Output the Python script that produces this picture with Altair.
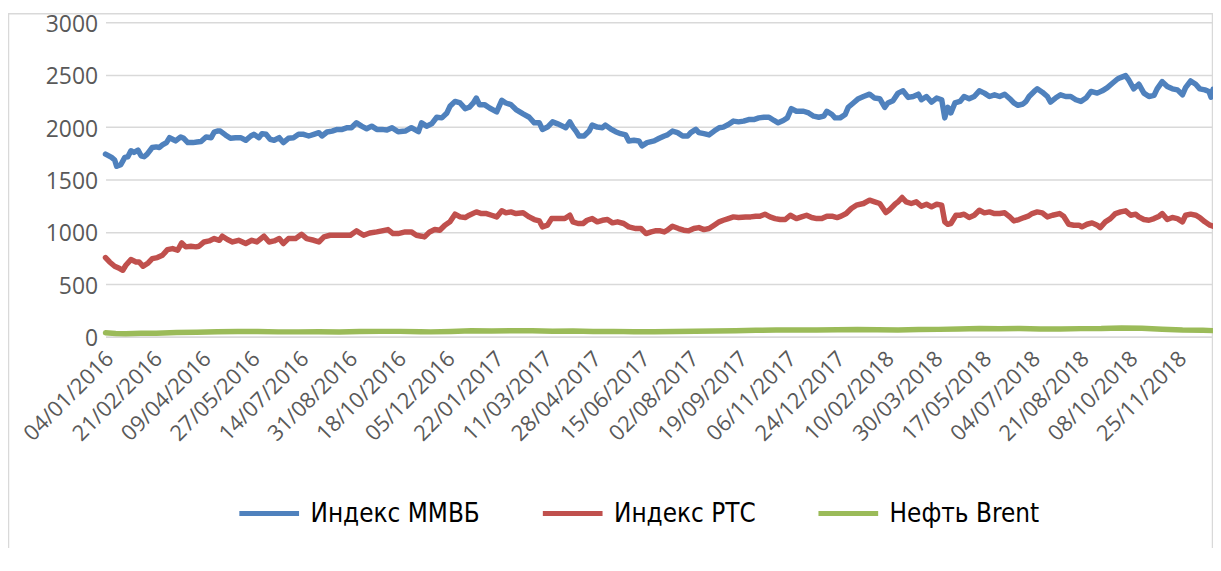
import altair as alt
import pandas as pd

series_names = ["Индекс ММВБ", "Индекс РТС", "Нефть Brent"]
series_colors = ["#4F81BD", "#C0504D", "#9BBB59"]

start_date = "2016-01-04"
end_date = "2018-12-29"

tick_labels = ["04/01/2016", "21/02/2016", "09/04/2016", "27/05/2016", "14/07/2016",
               "31/08/2016", "18/10/2016", "05/12/2016", "22/01/2017", "11/03/2017",
               "28/04/2017", "15/06/2017", "02/08/2017", "19/09/2017", "06/11/2017",
               "24/12/2017", "10/02/2018", "30/03/2018", "17/05/2018", "04/07/2018",
               "21/08/2018", "08/10/2018", "25/11/2018"]
y_ticks = [0, 500, 1000, 1500, 2000, 2500, 3000]

# days counted from 04/01/2016
mmvb_days = [0, 6, 9, 11, 15, 19, 22, 25, 28, 32, 35, 38, 41, 46, 50, 53, 56, 60, 63, 66,
             69, 74, 77, 81, 86, 90, 94, 99, 104, 107, 110, 113, 118, 123, 128, 133, 138, 143, 146, 151,
             154, 158, 162, 166, 171, 175, 180, 185, 190, 195, 200, 205, 210, 213, 218, 223, 228, 233, 238, 242,
             247, 252, 257, 262, 267, 272, 277, 282,
             288, 295, 301, 308, 311, 316, 321, 326, 331, 336, 339, 344, 349, 354, 358, 362, 365, 368, 373, 378,
             385, 390, 394, 399, 404, 411, 417, 422, 427, 430, 435, 440, 445, 450, 453, 457, 460, 463, 466, 471,
             476, 479, 484, 489, 492, 497, 502, 507, 512, 515, 520, 525, 528, 533, 540, 545, 550, 553, 558, 563,
             568, 573, 576, 581, 584, 589, 594, 599, 604, 608, 613, 618, 623, 628, 633, 638, 643, 648, 653, 658,
             662, 667, 671, 675,
             680, 687, 692, 697, 702, 707, 710, 715, 718, 723, 728, 731, 736, 741, 746, 752, 757, 762, 767, 770,
             775, 780, 785, 790, 795, 800, 803, 808, 813, 818, 823, 826, 829, 832, 836, 841, 845, 850, 855, 860,
             865, 870, 875, 880, 885, 890, 894, 898, 903, 906, 909, 914, 917, 922, 927, 930, 935, 940, 945, 950,
             955, 960, 965, 970, 976, 981, 986, 991, 996, 999, 1004, 1007, 1012, 1017, 1022, 1027, 1032, 1035, 1040, 1045,
             1050, 1055, 1060, 1063, 1068, 1073, 1077, 1082, 1086, 1088, 1090]
mmvb_values = [1742, 1711, 1686, 1626, 1641, 1711, 1717, 1774, 1758, 1780, 1726, 1717, 1742, 1805, 1811, 1805, 1830, 1852, 1899, 1884,
               1868, 1906, 1893, 1852, 1852, 1858, 1862, 1906, 1899, 1953, 1962, 1962, 1925, 1893, 1899, 1899, 1874, 1915, 1931, 1899,
               1937, 1931, 1884, 1874, 1899, 1852, 1893, 1899, 1931, 1931, 1915, 1931, 1947, 1915, 1953, 1962, 1978, 1978, 1994, 1994,
               2041, 2009, 1984, 2009, 1978, 1978, 1972, 1994,
               1956, 1962, 1994, 1956, 2041, 2009, 2031, 2094, 2088, 2135, 2198, 2245, 2230, 2176, 2189, 2230, 2277, 2214, 2214, 2182,
               2145, 2255, 2230, 2214, 2167, 2126, 2094, 2041, 2041, 1978, 2000, 2050, 2031, 2009, 1994, 2050, 2000, 1962, 1915, 1915,
               1962, 2019, 2000, 1994, 2019, 1984, 1956, 1937, 1925, 1868, 1874, 1868, 1821, 1852, 1868, 1893, 1915, 1925, 1962, 1947,
               1915, 1915, 1947, 1978, 1947, 1937, 1925, 1962, 1994, 2000, 2025, 2057, 2050, 2057, 2072, 2072, 2088, 2094, 2094, 2063,
               2041, 2063, 2088, 2176,
               2151, 2151, 2135, 2104, 2094, 2104, 2151, 2120, 2088, 2088, 2120, 2189, 2230, 2271, 2292, 2314, 2277, 2271, 2189, 2230,
               2252, 2324, 2346, 2283, 2292, 2314, 2261, 2292, 2239, 2277, 2261, 2088, 2189, 2135, 2230, 2245, 2292, 2271, 2292, 2346,
               2324, 2292, 2308, 2292, 2314, 2271, 2230, 2208, 2220, 2245, 2292, 2340, 2365, 2333, 2292, 2239, 2277, 2308, 2292, 2292,
               2261, 2245, 2277, 2340, 2324, 2346, 2377, 2418, 2459, 2472, 2491, 2450, 2365, 2409, 2324, 2292, 2302, 2365, 2434, 2387,
               2365, 2355, 2308, 2377, 2440, 2409, 2365, 2355, 2340, 2285, 2360]

rts_days = [0, 4, 9, 14, 17, 20, 25, 30, 33, 37, 42, 46, 51, 56, 61, 66, 71, 75, 79, 84,
            89, 92, 97, 102, 107, 112, 115, 120, 125, 131, 138, 144, 149, 156, 161, 166, 171, 175, 180, 187,
            193, 198, 205, 210, 215, 221, 228, 234, 241, 247, 254, 260, 267, 272, 278, 283,
            288, 295, 301, 306, 311, 314, 319, 324, 329, 334, 339, 344, 349, 354, 358, 365, 370, 375, 380, 385,
            390, 394, 399, 404, 411, 417, 422, 427, 430, 435, 439, 445, 452, 457, 460, 465, 470, 474, 479, 484,
            489, 494, 499, 504, 510, 515, 522, 527, 532, 537, 541, 546, 550, 553, 558, 564, 569, 574, 579, 584,
            589, 594, 599, 604, 608, 613, 618, 623, 630, 635, 640, 644, 649, 654, 659, 664, 669, 674,
            680, 685, 690, 695, 700, 705, 710, 715, 720, 724, 729, 734, 739, 746, 752, 757, 762, 768, 772, 777,
            780, 784, 788, 793, 798, 803, 808, 813, 818, 823, 826, 829, 832, 837, 841, 845, 850, 855, 860, 865,
            870, 875, 880, 885, 890, 894, 899, 904, 908, 912, 917, 922, 927, 932, 939, 943, 948, 953, 958, 961,
            966, 971, 976, 979, 984, 989, 994, 999, 1004, 1009, 1014, 1017, 1022, 1027, 1032, 1037, 1040, 1045, 1050, 1055,
            1060, 1063, 1068, 1073, 1077, 1082, 1087, 1090]
rts_values = [755, 713, 672, 650, 634, 682, 736, 713, 713, 672, 704, 745, 755, 777, 831, 841, 825, 895, 857, 863,
              857, 863, 904, 914, 936, 920, 959, 927, 904, 920, 889, 920, 904, 959, 904, 914, 936, 889, 936, 936,
              978, 936, 920, 904, 952, 968, 968, 968, 968, 1010, 968, 990, 1000, 1010, 1022, 984,
              984, 1000, 1000, 968, 959, 952, 1000, 1022, 1016, 1064, 1096, 1169, 1143, 1137, 1159, 1191, 1175, 1175, 1159, 1143,
              1201, 1182, 1191, 1175, 1182, 1143, 1118, 1105, 1048, 1064, 1127, 1127, 1127, 1159, 1096, 1080, 1080, 1111, 1127, 1096,
              1111, 1118, 1086, 1096, 1080, 1048, 1032, 1032, 984, 1000, 1010, 1010, 1000, 1016, 1054, 1032, 1016, 1010, 1032, 1041,
              1022, 1032, 1064, 1096, 1111, 1127, 1143, 1137, 1143, 1143, 1150, 1150, 1169, 1143, 1127, 1118, 1118, 1159,
              1127, 1143, 1159, 1137, 1127, 1127, 1150, 1150, 1137, 1150, 1175, 1223, 1255, 1271, 1303, 1287, 1271, 1185, 1214, 1264,
              1287, 1328, 1287, 1271, 1287, 1245, 1264, 1239, 1264, 1255, 1096, 1073, 1080, 1159, 1159, 1169, 1137, 1159, 1207, 1182,
              1191, 1175, 1175, 1182, 1143, 1105, 1118, 1137, 1150, 1175, 1191, 1182, 1143, 1159, 1175, 1150, 1073, 1064, 1064, 1048,
              1073, 1086, 1064, 1041, 1096, 1127, 1175, 1191, 1201, 1159, 1169, 1143, 1118, 1111, 1127, 1150, 1175, 1118, 1137, 1127,
              1096, 1159, 1169, 1159, 1137, 1096, 1064, 1054]

brent_days = [0, 10, 20, 35, 50, 70, 90, 110, 130, 150, 170, 190, 210, 230, 250, 270, 290, 310, 320, 340,
              360, 380, 400, 420, 440, 460, 480, 500, 520, 540, 560, 580, 600, 620, 640, 660, 680, 700, 720, 740,
              760, 780, 800, 820, 840, 860, 880, 900, 920, 940, 960, 980, 1000, 1020, 1040, 1060, 1080, 1090]
brent_values = [37, 30, 29, 34, 33, 40, 42, 47, 49, 50, 46, 46, 47, 44, 49, 51, 51, 47, 46, 50,
                56, 55, 56, 56, 52, 54, 50, 51, 47, 47, 50, 52, 55, 57, 61, 63, 64, 63, 67, 69,
                66, 65, 68, 70, 74, 78, 76, 78, 73, 74, 77, 78, 84, 80, 72, 63, 61, 58]

base = pd.Timestamp(start_date)
rows = []
for name, days, vals in [(series_names[0], mmvb_days, mmvb_values),
                         (series_names[1], rts_days, rts_values),
                         (series_names[2], brent_days, brent_values)]:
    for d, v in zip(days, vals):
        rows.append({"series": name,
                     "date": (base + pd.Timedelta(days=d)).strftime("%Y-%m-%d"),
                     "value": v})
df = pd.DataFrame(rows)


def to_ms(ts):
    return int(ts.value // 10**6)


tick_values = [to_ms(pd.to_datetime(s, format="%d/%m/%Y")) for s in tick_labels]
x_domain = [to_ms(pd.Timestamp(start_date)), to_ms(pd.Timestamp(end_date))]

lines = alt.Chart(df).mark_line(strokeWidth=5.5, strokeJoin="round", strokeCap="round").encode(
    x=alt.X("date:T",
            scale=alt.Scale(type="utc", domain=x_domain, nice=False),
            axis=alt.Axis(title=None, values=tick_values,
                          labelExpr="utcFormat(datum.value, '%d/%m/%Y')",
                          labelAngle=-45, labelAlign="right", labelBaseline="middle",
                          labelPadding=18, labelOffset=4,
                          labelFont="Open Sans", labelFontSize=22,
                          labelColor="#595959", ticks=False, grid=False,
                          domain=True, domainColor="#D9D9D9", domainWidth=1.5,
                          labelOverlap=False, labelBound=False, labelFlush=False)),
    y=alt.Y("value:Q",
            scale=alt.Scale(domain=[0, 3000], nice=False),
            axis=alt.Axis(title=None, values=y_ticks, format="d", labelFont="Open Sans",
                          labelFontSize=23, labelColor="#595959", labelPadding=8,
                          labelOffset=2,
                          ticks=False, domain=False, gridColor="#D9D9D9",
                          gridWidth=1.4)),
    color=alt.Color("series:N",
                    scale=alt.Scale(domain=series_names, range=series_colors),
                    sort=series_names,
                    legend=alt.Legend(title=None, orient="none", direction="horizontal",
                                      legendX=132, legendY=461,
                                      symbolType="stroke", symbolSize=3600,
                                      symbolStrokeWidth=5, labelOffset=9,
                                      columnPadding=52,
                                      labelFont="DejaVu Sans Condensed",
                                      labelFontSize=26, labelColor="#000000",
                                      labelLimit=400)),
)

frame = alt.Chart(alt.Data(values=[{}])).mark_rect(
    filled=False, stroke="#D9D9D9", strokeWidth=1.5
).encode(
    x=alt.value(-97.5), x2=alt.value(1112.5), y=alt.value(-8.5), y2=alt.value(700)
)

chart = alt.layer(frame, lines).properties(
    width=1113, height=316,
    autosize=alt.AutoSizeParams(type="none"),
    padding={"left": 98, "top": 13, "right": 0, "bottom": 211},
    background="white",
).configure_view(strokeWidth=0)

chart.save("out.html", embed_options={"renderer": "svg", "actions": False})
